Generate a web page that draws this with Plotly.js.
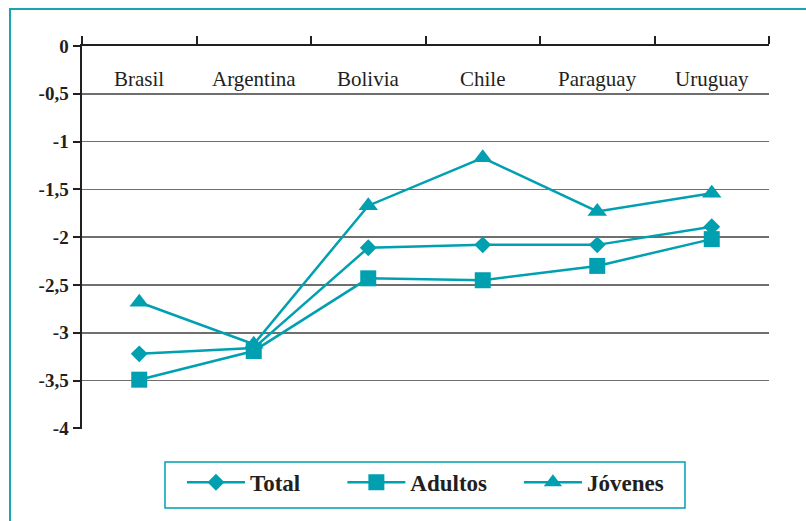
<!DOCTYPE html>
<html>
<head>
<meta charset="utf-8">
<script src="https://cdn.plot.ly/plotly-3.0.1.min.js"></script>
<style>
  html, body { margin: 0; padding: 0; background: #fff; }
  #wrap { position: relative; width: 806px; height: 521px; overflow: hidden; }
  #frame { position: absolute; left: 9px; top: 8px; width: 900px; height: 600px;
           border-left: 2.5px solid #1aa3b3; border-top: 2.5px solid #1aa3b3; pointer-events: none; }
  #chart { position: absolute; left: 0; top: 0; width: 806px; height: 521px; }
</style>
</head>
<body>
<div id="wrap">
  <div id="chart"></div>
  <div id="frame"></div>
</div>
<script>
const categories = ["Brasil", "Argentina", "Bolivia", "Chile", "Paraguay", "Uruguay"];
const total   = [-3.22, -3.16, -2.11, -2.08, -2.08, -1.89];
const adultos = [-3.49, -3.19, -2.43, -2.45, -2.30, -2.02];
const jovenes = [-2.68, -3.12, -1.67, -1.17, -1.73, -1.54];
const seriesNames = ["Total", "Adultos", "Jóvenes"];
const yTickVals = [0, -0.5, -1, -1.5, -2, -2.5, -3, -3.5, -4];
const yTickText = ["0", "-0,5", "-1", "-1,5", "-2", "-2,5", "-3", "-3,5", "-4"];
const labelY = -0.35;

const teal = "#00a0b0";
const serif = "Liberation Serif";

function trace(name, ys, symbol, size, legendId) {
  return {
    type: "scatter", mode: "lines+markers", name: name,
    x: categories, y: ys, legend: legendId,
    line: { color: teal, width: 2.5 },
    marker: { symbol: symbol, size: size, color: teal },
    cliponaxis: false
  };
}

const data = [
  trace(seriesNames[0], total, "diamond", 13, "legend"),
  trace(seriesNames[1], adultos, "square", 16, "legend2"),
  trace(seriesNames[2], jovenes, "triangle-up", 17, "legend3")
];

const annotations = categories.map(c => ({
  x: c, y: labelY, xref: "x", yref: "y", text: c, showarrow: false,
  font: { family: serif, size: 21, color: "#231f20" }, yanchor: "middle"
}));

function legendAt(x) {
  return {
    orientation: "h", x: x, xanchor: "left", y: -0.139, yanchor: "middle",
    borderwidth: 0, bgcolor: "rgba(0,0,0,0)",
    font: { family: serif, size: 23, color: "#231f20", weight: "bold" },
    itemwidth: 58
  };
}

const layout = {
  width: 806, height: 521,
  margin: { l: 82, r: 37, t: 46, b: 92 },
  paper_bgcolor: "#fff", plot_bgcolor: "#fff",
  showlegend: true,
  xaxis: {
    type: "category", side: "top", range: [-0.5, 5.5],
    showline: true, linecolor: "#231f20", linewidth: 2.5,
    ticks: "outside", tickson: "boundaries", ticklen: 8, tickwidth: 2, tickcolor: "#231f20",
    showticklabels: false, showgrid: false, zeroline: false, fixedrange: true
  },
  yaxis: {
    range: [-4.006, 0], tickvals: yTickVals, ticktext: yTickText,
    showline: true, linecolor: "#231f20", linewidth: 2.5,
    ticks: "outside", ticklen: 7, tickwidth: 2, tickcolor: "#231f20",
    showgrid: true, gridcolor: "#6f6f6f", gridwidth: 1.5, zeroline: false,
    tickfont: { family: serif, size: 19, color: "#231f20", weight: "bold" },
    fixedrange: true
  },
  legend: legendAt(0.1455),
  legend2: legendAt(0.3790),
  legend3: legendAt(0.6360),
  shapes: [{
    type: "rect", xref: "paper", yref: "paper",
    x0: 0.1208, x1: 0.8777, y0: -0.0862, y1: -0.2063,
    line: { color: teal, width: 1.5 }, fillcolor: "rgba(0,0,0,0)"
  }],
  annotations: annotations
};

Plotly.newPlot("chart", data, layout, { displayModeBar: false, staticPlot: true });
</script>
</body>
</html>
